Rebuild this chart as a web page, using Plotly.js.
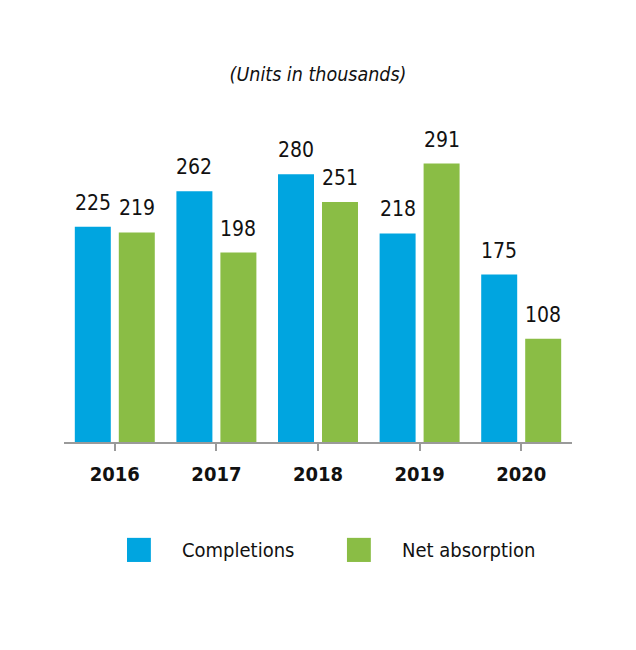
<!DOCTYPE html>
<html>
<head>
<meta charset="utf-8">
<script src="https://cdn.plot.ly/plotly-3.0.1.min.js"></script>
<style>html,body{margin:0;padding:0;background:#fff;}</style>
</head>
<body>
<div id="chart" style="width:636px;height:650px;"></div>
<script>
const years = ["2016", "2017", "2018", "2019", "2020"];
const seriesNames = ["Completions", "Net absorption"];
const completions = [225, 262, 280, 218, 175];
const netAbsorption = [219, 198, 251, 291, 108];
const colors = ["#00A5E0", "#8ABD45"];

const FONT = "'DejaVu Sans Condensed', 'Liberation Sans Narrow', sans-serif";

const values = [completions, netAbsorption];
const traces = values.map((v, i) => ({
  type: "bar",
  name: seriesNames[i],
  x: years,
  y: v,
  marker: {color: colors[i]},
  showlegend: false,
  hoverinfo: "x+y+name"
}));

const annotations = [];
values.forEach((v, i) => {
  v.forEach((val, j) => {
    annotations.push({
      x: j, y: val, xref: "x", yref: "y",
      text: String(val), showarrow: false,
      xshift: i === 0 ? -22 : 22, yshift: 10,
      yanchor: "bottom", xanchor: "center",
      font: {family: FONT, size: 21, color: "#111"}
    });
  });
});

// legend
const legendX = [[0.124, 0.171, 0.228], [0.557, 0.604, 0.661]];
const shapes = [];
seriesNames.forEach((n, i) => {
  shapes.push({type: "rect", xref: "paper", yref: "paper",
    x0: legendX[i][0], x1: legendX[i][1], y0: -0.334, y1: -0.418,
    fillcolor: colors[i], line: {width: 0}});
  annotations.push({xref: "paper", yref: "paper", x: legendX[i][2], y: -0.376,
    xanchor: "left", yanchor: "middle", showarrow: false, text: n,
    font: {family: FONT, size: 20, color: "#111"}});
});

const layout = {
  width: 636, height: 650,
  margin: {l: 64, r: 64, t: 155, b: 208},
  paper_bgcolor: "#fff", plot_bgcolor: "#fff",
  title: {text: "<i>(Units in thousands)</i>", x: 0.5, xref: "container",
    y: 1 - 74/650, yref: "container", yanchor: "middle", xanchor: "center",
    font: {family: FONT, size: 19.5, color: "#111"}},
  barmode: "group", bargap: 0.134, bargroupgap: 0.182,
  xaxis: {type: "category", range: [-0.5, 4.5], showline: true, linecolor: "#9a9a9a", linewidth: 2,
    ticks: "outside", ticklen: 7, tickwidth: 2, tickcolor: "#9a9a9a",
    ticklabelstandoff: 6,
    tickfont: {family: FONT, size: 20, color: "#111", weight: "bold"},
    showgrid: false, zeroline: false, fixedrange: true},
  yaxis: {range: [0, 300], visible: false, showgrid: false, zeroline: false, fixedrange: true},
  shapes: shapes,
  annotations: annotations,
  showlegend: false
};

Plotly.newPlot("chart", traces, layout, {displayModeBar: false, staticPlot: true});
</script>
</body>
</html>
